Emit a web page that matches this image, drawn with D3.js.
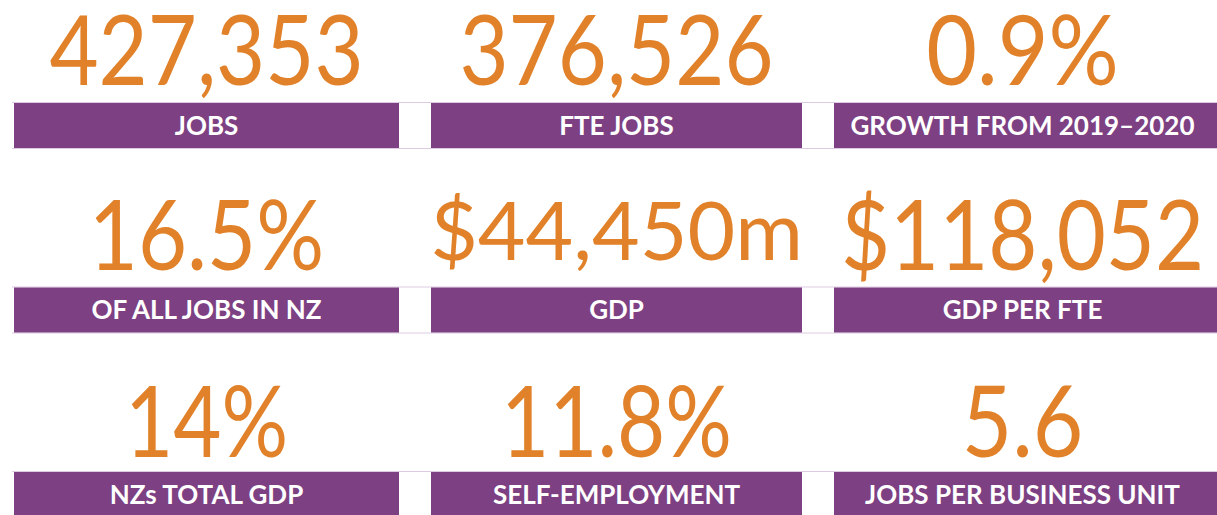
<!DOCTYPE html>
<html><head><meta charset="utf-8">
<script src="https://cdn.jsdelivr.net/npm/d3@7"></script>
<style>
html,body{margin:0;padding:0;background:#fff;overflow:hidden}
svg{display:block}
</style></head>
<body><svg id="c" width="1217" height="515"></svg>
<script>
// ---- data ----
const values = ["427,353","376,526","0.9%","16.5%","$44,450m","$118,052","14%","11.8%","5.6"];
const labels = ["JOBS","FTE JOBS","GROWTH FROM 2019–2020","OF ALL JOBS IN NZ","GDP","GDP PER FTE","NZs TOTAL GDP","SELF-EMPLOYMENT","JOBS PER BUSINESS UNIT"];

// ---- layout / style ----
const W = 1217, H = 515;
const colEdges = [[14,399],[431,802],[834,1222]];
const rowScale = d3.scaleLinear().domain([0,1]).range([103, 287.5]); // bar top per row
const barH = 45;
const orange = "#E1822B", purple = "#7D4083", line = "#DCCBE2";
const numFont = "Lato, 'Open Sans', sans-serif";
const capRatio = 0.7165;
const capH   = [69,69,69, 69,59,69, 71,71,71];
const baseGap= [18,18,18, 18,28,18, 15,15,15];
const sxs    = [0.88,0.88,0.91, 0.88,1.0,0.88, 0.84,0.84,0.88];

const svg = d3.select("#c");
const tiles = values.map((v,i)=>({v, label: labels[i], row: Math.floor(i/3), col: i%3, i}));
const cx = d => (colEdges[d.col][0]+Math.min(colEdges[d.col][1],W+2))/2 + (d.col===2?-4:0);

// faint table lines
[0,1,2].forEach(r=>{
  const y0 = rowScale(r);
  [y0-0.5, y0+barH+0.5].forEach(y=>{
    svg.append("line").attr("x1",12).attr("x2",W).attr("y1",y).attr("y2",y)
      .attr("stroke",line).attr("stroke-width",1);
  });
});

const g = svg.selectAll("g.tile").data(tiles).join("g").attr("class","tile");

g.append("rect")
  .attr("x", d=>colEdges[d.col][0])
  .attr("y", d=>rowScale(d.row))
  .attr("width", d=>colEdges[d.col][1]-colEdges[d.col][0])
  .attr("height", barH)
  .attr("fill", purple);

g.append("text")
  .attr("x", cx)
  .attr("y", d=>rowScale(d.row)+barH/2)
  .attr("dy","0.36em")
  .attr("text-anchor","middle")
  .attr("fill","#fff")
  .style("font-family","Lato, 'Open Sans', sans-serif")
  .style("font-weight",700)
  .style("font-size","26px")
  .text(d=>d.label);

g.append("text")
  .attr("transform", d=>`translate(${cx(d)},${rowScale(d.row) - baseGap[d.i]}) scale(${sxs[d.i]},1)`)
  .attr("text-anchor","middle")
  .attr("fill", orange)
  .style("font-family", numFont)
  .style("font-weight", 400)
  .style("font-size", d=>(capH[d.i]/capRatio).toFixed(1)+"px")
  .text(d=>d.v);
</script></body></html>
